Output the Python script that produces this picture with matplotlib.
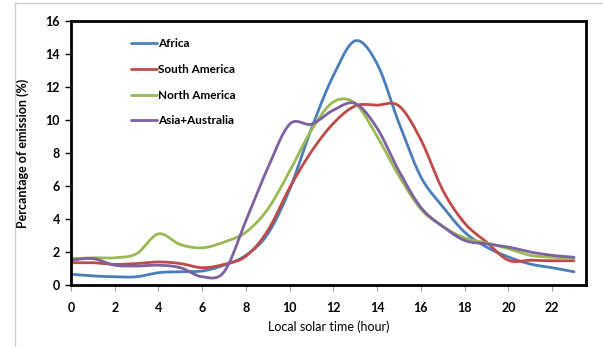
import numpy as np
import matplotlib.pyplot as plt
from matplotlib.lines import Line2D

hours = list(range(24))
africa = [0.65, 0.55, 0.5, 0.5, 0.75, 0.8, 0.85, 1.2, 1.8, 3.1, 5.8, 9.5,
          12.7, 14.8, 13.4, 9.8, 6.55, 4.75, 3.2, 2.3, 1.7, 1.27, 1.05, 0.8]
south_america = [1.35, 1.35, 1.25, 1.3, 1.4, 1.3, 1.05, 1.25, 1.75, 3.3, 5.9, 8.1,
                 9.8, 10.85, 10.9, 10.85, 8.8, 5.75, 3.75, 2.6, 1.5, 1.5, 1.47, 1.47]
north_america = [1.6, 1.65, 1.65, 1.9, 3.1, 2.45, 2.25, 2.6, 3.2, 4.6, 6.9, 9.4,
                 11.1, 11.0, 9.0, 6.6, 4.6, 3.55, 2.85, 2.55, 2.2, 1.8, 1.68, 1.6]
asia_australia = [1.5, 1.6, 1.2, 1.15, 1.2, 1.05, 0.5, 0.8, 3.9, 7.1, 9.75, 9.75,
                  10.6, 11.0, 9.5, 6.9, 4.7, 3.55, 2.7, 2.5, 2.3, 2.0, 1.8, 1.68]

series = [
    ("Africa", africa, "#4A7EBB"),
    ("South America", south_america, "#BE4B48"),
    ("North America", north_america, "#98B954"),
    ("Asia+Australia", asia_australia, "#7D60A0"),
]


def smooth(x, y, n=20):
    # Excel-like smoothed line: cubic Bezier through points (Catmull-Rom)
    x = np.asarray(x, float)
    y = np.asarray(y, float)
    px = np.concatenate([[x[0]], x, [x[-1]]])
    py = np.concatenate([[y[0]], y, [y[-1]]])
    t = np.linspace(0, 1, n, endpoint=False)
    xs, ys = [], []
    for i in range(1, len(px) - 2):
        p0 = np.array([px[i], py[i]])
        p3 = np.array([px[i + 1], py[i + 1]])
        c1 = p0 + (p3 - np.array([px[i - 1], py[i - 1]])) / 6
        c2 = p3 - (np.array([px[i + 2], py[i + 2]]) - p0) / 6
        b = ((1 - t) ** 3)[:, None] * p0 + (3 * (1 - t) ** 2 * t)[:, None] * c1 \
            + (3 * (1 - t) * t ** 2)[:, None] * c2 + (t ** 3)[:, None] * p3
        xs.extend(b[:, 0])
        ys.extend(b[:, 1])
    xs.append(x[-1])
    ys.append(y[-1])
    return xs, ys


plt.rcParams['font.family'] = ['Lato', 'DejaVu Sans']

fig = plt.figure(figsize=(6.03, 3.47), dpi=100)
ax = fig.add_axes([71 / 603, 1 - 285 / 347, 515 / 603, 264 / 347])

for name, vals, color in series:
    sx, sy = smooth(hours, vals)
    ax.plot(sx, sy, color=color, lw=2, label=name, solid_capstyle='round')

ax.set_xlim(0, 23.55)
ax.set_ylim(0, 16)
ax.set_xticks(range(0, 24, 2))
ax.set_yticks(range(0, 17, 2))
for lbl in ax.get_xticklabels() + ax.get_yticklabels():
    lbl.set_fontweight('bold')
    lbl.set_fontsize(9)
ax.tick_params(axis='y', length=4, width=1, color='black', pad=4)
ax.tick_params(axis='x', length=4, width=0.8, color='#A0A0A0', pad=8)

for side in ['left', 'bottom', 'top', 'right']:
    ax.spines[side].set_linewidth(2)
    ax.spines[side].set_color('black')

ax.set_xlabel("Local solar time (hour)", fontsize=9, labelpad=5)
ax.set_ylabel("Percantage of emission (%)", fontsize=9, fontweight='bold', labelpad=12)

leg = ax.legend(loc='upper left', bbox_to_anchor=(0.095, 0.975), frameon=False,
                handlelength=2.2, handletextpad=0.1, labelspacing=1.25,
                prop={'weight': 'bold', 'size': 8.5})

# outer chart border (partly visible)
fig.add_artist(Line2D([15 / 603, 1], [1 - 3 / 347, 1 - 3 / 347], color='#D0D0D0', lw=1))
fig.add_artist(Line2D([15 / 603, 15 / 603], [0, 1 - 3 / 347], color='#D0D0D0', lw=1))

fig.savefig("out.png", dpi=100)
